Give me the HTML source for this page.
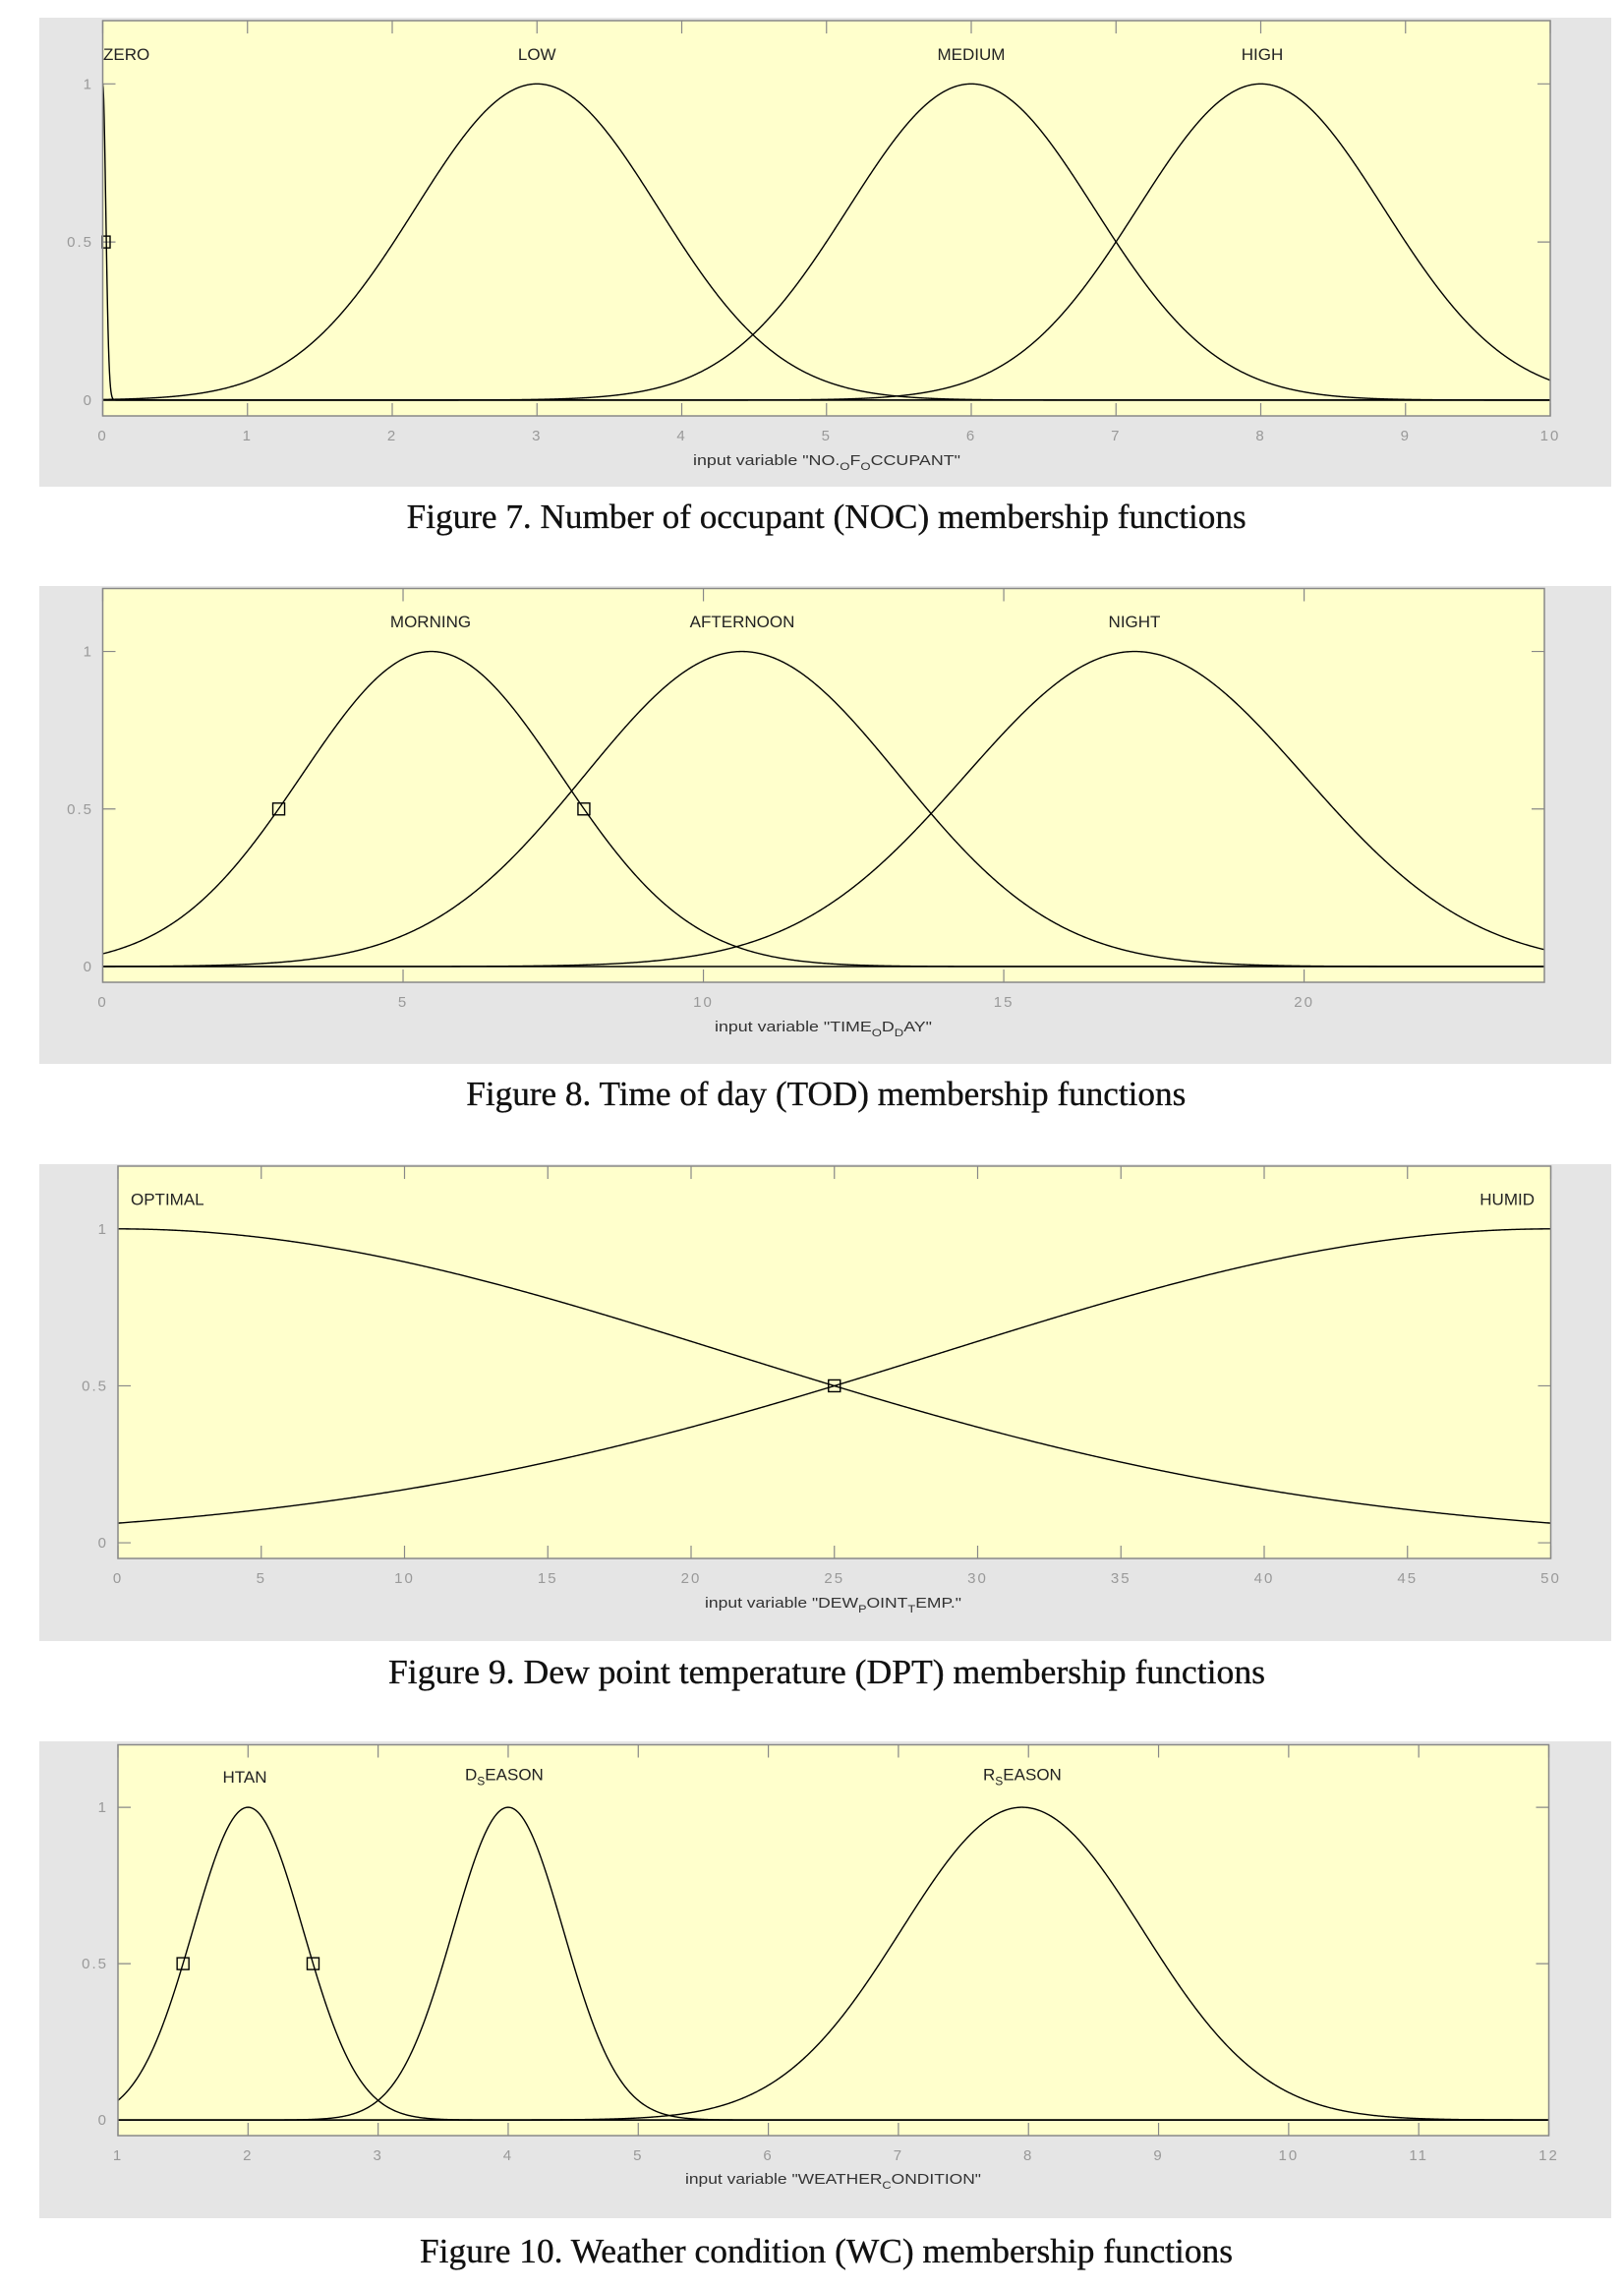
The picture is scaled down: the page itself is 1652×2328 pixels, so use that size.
<!DOCTYPE html>
<html>
<head>
<meta charset="utf-8">
<style>
  html,body{margin:0;padding:0;background:#fff;}
  body{width:1652px;height:2328px;overflow:hidden;}
  svg{display:block;}
  .tl{font-family:"Liberation Sans",Arial,sans-serif;font-size:15px;fill:#999;letter-spacing:2px;}
  .ml{font-family:"Liberation Sans",Arial,sans-serif;font-size:17px;fill:#222;}
  .xl{font-family:"Liberation Sans",Arial,sans-serif;font-size:15px;fill:#333;}
  .cap{font-family:"Liberation Serif","Times New Roman",serif;font-size:35px;fill:#111;stroke:#111;stroke-width:0.35px;}
</style>
</head>
<body>
<svg id="s" width="1652" height="2328" viewBox="0 0 1652 2328" xmlns="http://www.w3.org/2000/svg">
  <defs>
    <clipPath id="c0"><rect x="104.5" y="21" width="1472.5" height="402"/></clipPath>
    <clipPath id="c1"><rect x="104.5" y="598.5" width="1466.5" height="400.5"/></clipPath>
    <clipPath id="c2"><rect x="120" y="1186" width="1457.5" height="399"/></clipPath>
    <clipPath id="c3"><rect x="120" y="1774.5" width="1455.5" height="397.5"/></clipPath>
  </defs>

  <!-- panels -->
  <rect x="40" y="18" width="1599" height="477" fill="#e5e5e5"/>
  <rect x="40" y="596" width="1599" height="486" fill="#e5e5e5"/>
  <rect x="40" y="1184" width="1599" height="485" fill="#e5e5e5"/>
  <rect x="40" y="1771" width="1599" height="485" fill="#e5e5e5"/>

  <!-- axes backgrounds -->
  <rect x="104.5" y="21" width="1472.5" height="402" fill="#ffffcc"/>
  <rect x="104.5" y="598.5" width="1466.5" height="400.5" fill="#ffffcc"/>
  <rect x="120" y="1186" width="1457.5" height="399" fill="#ffffcc"/>
  <rect x="120" y="1774.5" width="1455.5" height="397.5" fill="#ffffcc"/>

  <g id="ticks"></g>
  <g id="curves"></g>

  <!-- axes borders -->
  <g fill="none" stroke="#888" stroke-width="1.5">
    <rect x="104.5" y="21" width="1472.5" height="402"/>
    <rect x="104.5" y="598.5" width="1466.5" height="400.5"/>
    <rect x="120" y="1186" width="1457.5" height="399"/>
    <rect x="120" y="1774.5" width="1455.5" height="397.5"/>
  </g>

  <!-- ===== Figure 7 ===== -->
  <g class="tl" text-anchor="end">
    <text x="95" y="411.9">0</text>
    <text x="95" y="251.1">0.5</text>
    <text x="95" y="90.3">1</text>
  </g>
  <g class="tl" text-anchor="middle">
    <text x="104.5" y="448">0</text>
    <text x="251.75" y="448">1</text>
    <text x="399" y="448">2</text>
    <text x="546.25" y="448">3</text>
    <text x="693.5" y="448">4</text>
    <text x="840.75" y="448">5</text>
    <text x="988" y="448">6</text>
    <text x="1135.25" y="448">7</text>
    <text x="1282.5" y="448">8</text>
    <text x="1429.75" y="448">9</text>
    <text x="1577" y="448">10</text>
  </g>
  <text class="ml" x="105" y="61">ZERO</text>
  <text class="ml" x="546.25" y="61" text-anchor="middle">LOW</text>
  <text class="ml" x="988" y="61" text-anchor="middle">MEDIUM</text>
  <text class="ml" x="1284" y="61" text-anchor="middle">HIGH</text>
  <text class="xl" x="705" y="473" textLength="272" lengthAdjust="spacingAndGlyphs">input variable "NO.<tspan dy="5" font-size="11">O</tspan><tspan dy="-5">F</tspan><tspan dy="5" font-size="11">O</tspan><tspan dy="-5">CCUPANT"</tspan></text>
  <text class="cap" x="413.7" y="537" textLength="854" lengthAdjust="spacingAndGlyphs">Figure 7. Number of occupant (NOC) membership functions</text>

  <!-- ===== Figure 8 ===== -->
  <g class="tl" text-anchor="end">
    <text x="95" y="988">0</text>
    <text x="95" y="827.8">0.5</text>
    <text x="95" y="667.6">1</text>
  </g>
  <g class="tl" text-anchor="middle">
    <text x="104.5" y="1024">0</text>
    <text x="410" y="1024">5</text>
    <text x="715.5" y="1024">10</text>
    <text x="1021.1" y="1024">15</text>
    <text x="1326.6" y="1024">20</text>
  </g>
  <text class="ml" x="438" y="638" text-anchor="middle">MORNING</text>
  <text class="ml" x="755" y="638" text-anchor="middle">AFTERNOON</text>
  <text class="ml" x="1154" y="638" text-anchor="middle">NIGHT</text>
  <text class="xl" x="727" y="1049" textLength="221" lengthAdjust="spacingAndGlyphs">input variable "TIME<tspan dy="5" font-size="11">O</tspan><tspan dy="-5">D</tspan><tspan dy="5" font-size="11">D</tspan><tspan dy="-5">AY"</tspan></text>
  <text class="cap" x="474.3" y="1124" textLength="732" lengthAdjust="spacingAndGlyphs">Figure 8. Time of day (TOD) membership functions</text>

  <!-- ===== Figure 9 ===== -->
  <g class="tl" text-anchor="end">
    <text x="110" y="1574">0</text>
    <text x="110" y="1414.4">0.5</text>
    <text x="110" y="1254.8">1</text>
  </g>
  <g class="tl" text-anchor="middle">
    <text x="120" y="1610">0</text>
    <text x="265.75" y="1610">5</text>
    <text x="411.5" y="1610">10</text>
    <text x="557.25" y="1610">15</text>
    <text x="703" y="1610">20</text>
    <text x="848.75" y="1610">25</text>
    <text x="994.5" y="1610">30</text>
    <text x="1140.25" y="1610">35</text>
    <text x="1286" y="1610">40</text>
    <text x="1431.75" y="1610">45</text>
    <text x="1577.5" y="1610">50</text>
  </g>
  <text class="ml" x="133" y="1225.5">OPTIMAL</text>
  <text class="ml" x="1561" y="1225.5" text-anchor="end">HUMID</text>
  <text class="xl" x="717" y="1635" textLength="261" lengthAdjust="spacingAndGlyphs">input variable "DEW<tspan dy="5" font-size="11">P</tspan><tspan dy="-5">OINT</tspan><tspan dy="5" font-size="11">T</tspan><tspan dy="-5">EMP."</tspan></text>
  <text class="cap" x="395" y="1712" textLength="892" lengthAdjust="spacingAndGlyphs">Figure 9. Dew point temperature (DPT) membership functions</text>

  <!-- ===== Figure 10 ===== -->
  <g class="tl" text-anchor="end">
    <text x="110" y="2161.1">0</text>
    <text x="110" y="2002.1">0.5</text>
    <text x="110" y="1843.1">1</text>
  </g>
  <g class="tl" text-anchor="middle">
    <text x="120" y="2197">1</text>
    <text x="252.32" y="2197">2</text>
    <text x="384.64" y="2197">3</text>
    <text x="516.95" y="2197">4</text>
    <text x="649.27" y="2197">5</text>
    <text x="781.59" y="2197">6</text>
    <text x="913.91" y="2197">7</text>
    <text x="1046.23" y="2197">8</text>
    <text x="1178.55" y="2197">9</text>
    <text x="1310.86" y="2197">10</text>
    <text x="1443.18" y="2197">11</text>
    <text x="1575.5" y="2197">12</text>
  </g>
  <text class="ml" x="249" y="1813" text-anchor="middle">HTAN</text>
  <text class="ml" x="473" y="1810.5">D<tspan dy="5" font-size="12">S</tspan><tspan dy="-5">EASON</tspan></text>
  <text class="ml" x="1000" y="1810.5">R<tspan dy="5" font-size="12">S</tspan><tspan dy="-5">EASON</tspan></text>
  <text class="xl" x="697" y="2221" textLength="301" lengthAdjust="spacingAndGlyphs">input variable "WEATHER<tspan dy="5" font-size="11">C</tspan><tspan dy="-5">ONDITION"</tspan></text>
  <text class="cap" x="427" y="2301" textLength="827" lengthAdjust="spacingAndGlyphs">Figure 10. Weather condition (WC) membership functions</text>
</svg>

<script>
(function(){
  var NS="http://www.w3.org/2000/svg";
  var figs=[
    {L:104.5,R:1577,T:21,B:423,xmin:0,xmax:10,xt:[0,1,2,3,4,5,6,7,8,9,10],
     mfs:[[0.0212,0],[0.84,3],[0.85,6],[0.85,8]],base:true,N:3000,
     markers:[[108,0.5,8,12]]},
    {L:104.5,R:1571,T:598.5,B:999,xmin:0,xmax:24,xt:[0,5,10,15,20],
     mfs:[[2.16,5.47],[2.62,10.64],[2.82,17.18]],base:true,N:1200,
     markers:[[2.93,0.5],[8.01,0.5]]},
    {L:120,R:1577.5,T:1186,B:1585,xmin:0,xmax:50,xt:[0,5,10,15,20,25,30,35,40,45,50],
     mfs:[[21.23,0],[21.23,50]],base:false,N:1000,
     markers:[[25,0.5]]},
    {L:120,R:1575.5,T:1774.5,B:2172,xmin:1,xmax:12,xt:[1,2,3,4,5,6,7,8,9,10,11,12],
     mfs:[[0.4247,2],[0.4247,4],[0.93,7.95]],base:true,N:1500,
     markers:[[1.5,0.5],[2.5,0.5]]}
  ];
  var tg=document.getElementById("ticks"), cg=document.getElementById("curves");
  function el(n,a,p){var e=document.createElementNS(NS,n);for(var k in a)e.setAttribute(k,a[k]);p.appendChild(e);return e;}
  figs.forEach(function(f,i){
    var sx=function(x){return f.L+(x-f.xmin)/(f.xmax-f.xmin)*(f.R-f.L);};
    var sy=function(v){return f.B-(v+0.05)/1.25*(f.B-f.T);};
    var tl=13, d="";
    f.xt.forEach(function(t){var x=sx(t);d+="M"+x+" "+f.B+"V"+(f.B-tl)+"M"+x+" "+f.T+"V"+(f.T+tl);});
    [0,0.5,1].forEach(function(v){var y=sy(v);d+="M"+f.L+" "+y+"H"+(f.L+tl)+"M"+f.R+" "+y+"H"+(f.R-tl);});
    el("path",{d:d,stroke:"#888","stroke-width":"1.2",fill:"none"},tg);
    var g=el("g",{"clip-path":"url(#c"+i+")"},cg);
    if(f.base){el("path",{d:"M"+f.L+" "+sy(0)+"H"+f.R,stroke:"#000","stroke-width":"1.5",fill:"none"},g);}
    f.mfs.forEach(function(m){
      var s=m[0],c=m[1],p="";
      for(var k=0;k<=f.N;k++){
        var x=f.xmin+(f.xmax-f.xmin)*k/f.N;
        var v=Math.exp(-(x-c)*(x-c)/(2*s*s));
        p+=(k?"L":"M")+sx(x).toFixed(2)+" "+sy(v).toFixed(2);
      }
      el("path",{d:p,stroke:"#000","stroke-width":"1.4",fill:"none","stroke-linejoin":"round"},g);
    });
    f.markers.forEach(function(mk){
      var w=mk[2]||12,h=mk[3]||12;
      var cx=(i===0)?mk[0]:sx(mk[0]);
      var cy=sy(mk[1]);
      el("rect",{x:(cx-w/2).toFixed(2),y:(cy-h/2).toFixed(2),width:w,height:h,fill:"none",stroke:"#000","stroke-width":"1.4"},cg);
    });
  });
})();
</script>
</body>
</html>
